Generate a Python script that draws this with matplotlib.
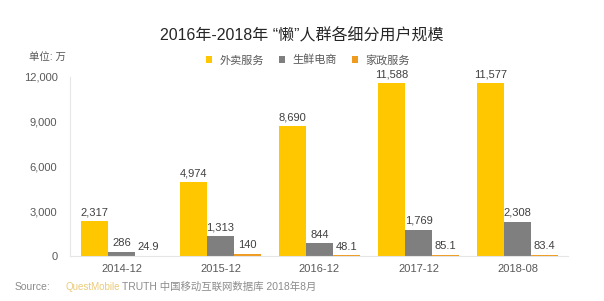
import numpy as np
import matplotlib
matplotlib.use('Agg')
import matplotlib.pyplot as plt
from matplotlib.ticker import FuncFormatter

plt.rcParams['font.family'] = ['Liberation Sans', 'Noto Sans CJK SC', 'DejaVu Sans']

# data
periods = ['2014-12', '2015-12', '2016-12', '2017-12', '2018-08']
seriesNames = ['外卖服务', '生鲜电商', '家政服务']
takeout = [2317, 4974, 8690, 11588, 11577]
freshFood = [286, 1313, 844, 1769, 2308]
housekeeping = [24.9, 140, 48.1, 85.1, 83.4]
yTicks = [0, 3000, 6000, 9000, 12000]

colors = ['#FFC700', '#7F7F7F', '#EE9B1F']
textGray = '#595959'


def labelText(v):
    if v < 100 and v != int(v):
        return '%.1f' % v
    return '{:,}'.format(int(v))


def plotChart():
    fig = plt.figure(figsize=(6.04, 3.01), dpi=100)
    ax = fig.add_axes([70 / 604, 45 / 301, 498 / 604, 179 / 301])

    x = np.arange(len(periods))
    width = 0.273
    allSeries = [takeout, freshFood, housekeeping]
    for i, values in enumerate(allSeries):
        pos = x + (i - 1) * width
        bars = ax.bar(pos, values, width, color=colors[i], label=seriesNames[i], zorder=2)
        for b, v in zip(bars, values):
            ax.text(b.get_x() + b.get_width() / 2, b.get_height() + 250, labelText(v),
                    ha='center', va='bottom', fontsize=8, color='#404040')

    ax.set_xlim(-0.52, 4.51)
    ax.set_ylim(0, 12000)
    ax.set_yticks(yTicks)
    ax.yaxis.set_major_formatter(FuncFormatter(lambda v, p: '{:,}'.format(int(v))))
    ax.set_xticks(x)
    ax.set_xticklabels(periods)
    ax.tick_params(axis='both', length=0, labelsize=8, colors=textGray)
    ax.tick_params(axis='y', pad=9)
    ax.tick_params(axis='x', pad=6)

    for side in ['top', 'right']:
        ax.spines[side].set_visible(False)
    for side in ['left', 'bottom']:
        ax.spines[side].set_color('#E6E6E6')
        ax.spines[side].set_linewidth(0.8)

    fig.text(0.5, 1 - 36 / 301, '2016年-2018年 “懒”人群各细分用户规模', ha='center', va='center',
             fontsize=11.5, color='#262626')
    fig.text(47 / 604, 1 - 57 / 301, '单位: 万', ha='center', va='center', fontsize=7.5, color=textGray)

    leg = ax.legend(loc='center', bbox_to_anchor=(308 / 604, 1 - 60 / 301), bbox_transform=fig.transFigure,
                    ncol=3, frameon=False, fontsize=8, handlelength=0.55, handleheight=0.55,
                    handletextpad=0.7, columnspacing=1.3)
    for t in leg.get_texts():
        t.set_color(textGray)

    fig.text(15 / 604, 1 - 287 / 301, 'Source:', ha='left', va='center', fontsize=7.5, color='#8C8C8C')
    fig.text(65 / 604, 1 - 287 / 301, 'QuestMobile', ha='left', va='center', fontsize=7, color='#EBCB7A')
    fig.text(122 / 604, 1 - 287 / 301, 'TRUTH 中国移动互联网数据库 2018年8月', ha='left', va='center',
             fontsize=7.5, color='#8C8C8C')

    fig.savefig('out.png', dpi=100, facecolor='white')


def main():
    plotChart()


main()
